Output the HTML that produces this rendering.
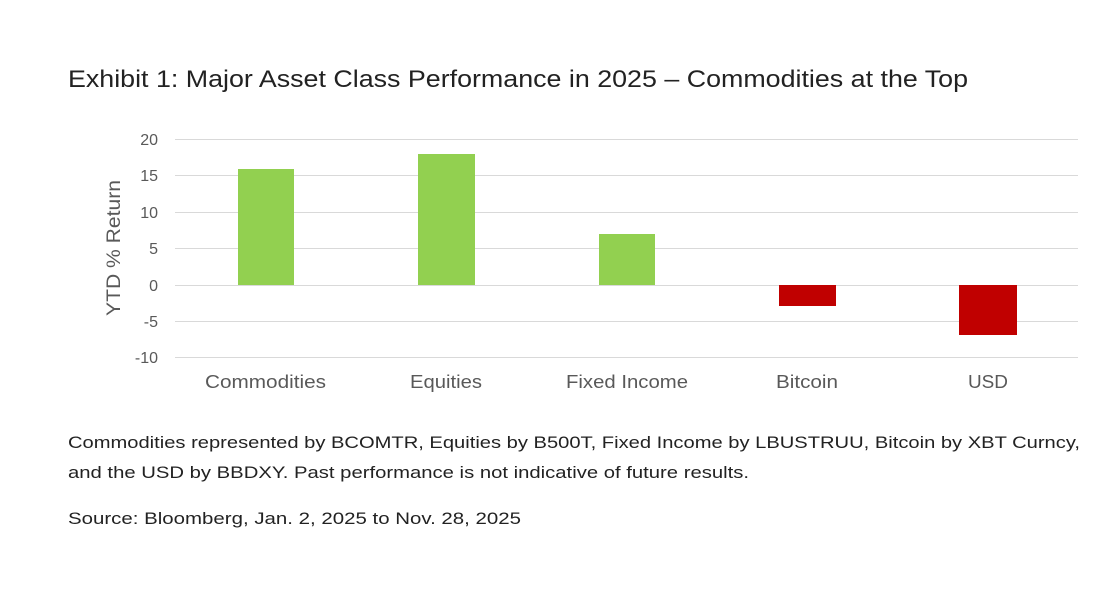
<!DOCTYPE html>
<html><head><style>
body{margin:0;background:#fff;}
svg{display:block;font-family:"Liberation Sans",sans-serif;}
</style></head><body>
<svg width="1104" height="601" viewBox="0 0 1104 601">
<rect width="1104" height="601" fill="#fff"/>
<text x="68" y="87" font-size="24" fill="#222" textLength="900" lengthAdjust="spacingAndGlyphs">Exhibit 1: Major Asset Class Performance in 2025 – Commodities at the Top</text>
<g stroke="#d9d9d9" stroke-width="1">
<line x1="175" x2="1078" y1="139.5" y2="139.5"/>
<line x1="175" x2="1078" y1="175.5" y2="175.5"/>
<line x1="175" x2="1078" y1="212.5" y2="212.5"/>
<line x1="175" x2="1078" y1="248.5" y2="248.5"/>
<line x1="175" x2="1078" y1="285.5" y2="285.5"/>
<line x1="175" x2="1078" y1="321.5" y2="321.5"/>
<line x1="175" x2="1078" y1="357.5" y2="357.5"/>
</g>
<g font-size="16" fill="#595959" text-anchor="end">
<text x="158" y="145">20</text>
<text x="158" y="181">15</text>
<text x="158" y="218">10</text>
<text x="158" y="254">5</text>
<text x="158" y="291">0</text>
<text x="158" y="327">-5</text>
<text x="158" y="363">-10</text>
</g>
<text transform="translate(120,248) rotate(-90)" font-size="19" fill="#595959" text-anchor="middle" textLength="136" lengthAdjust="spacingAndGlyphs">YTD % Return</text>
<rect x="238" y="169" width="56" height="116" fill="#92d050"/>
<rect x="418" y="154" width="57" height="131" fill="#92d050"/>
<rect x="599" y="234" width="56" height="51" fill="#92d050"/>
<rect x="779" y="285" width="57" height="21" fill="#c00000"/>
<rect x="959" y="285" width="58" height="50" fill="#c00000"/>
<g font-size="18" fill="#595959">
<text x="205" y="388" textLength="121" lengthAdjust="spacingAndGlyphs">Commodities</text>
<text x="410" y="388" textLength="72" lengthAdjust="spacingAndGlyphs">Equities</text>
<text x="566" y="388" textLength="122" lengthAdjust="spacingAndGlyphs">Fixed Income</text>
<text x="776" y="388" textLength="62" lengthAdjust="spacingAndGlyphs">Bitcoin</text>
<text x="968" y="388" textLength="40" lengthAdjust="spacingAndGlyphs">USD</text>
</g>
<g font-size="17" fill="#222">
<text x="68" y="448" textLength="1012" lengthAdjust="spacingAndGlyphs">Commodities represented by BCOMTR, Equities by B500T, Fixed Income by LBUSTRUU, Bitcoin by XBT Curncy,</text>
<text x="68" y="478" textLength="681" lengthAdjust="spacingAndGlyphs">and the USD by BBDXY.  Past performance is not indicative of future results.</text>
<text x="68" y="524" textLength="453" lengthAdjust="spacingAndGlyphs">Source: Bloomberg, Jan. 2, 2025 to Nov. 28, 2025</text>
</g>
</svg>
</body></html>
